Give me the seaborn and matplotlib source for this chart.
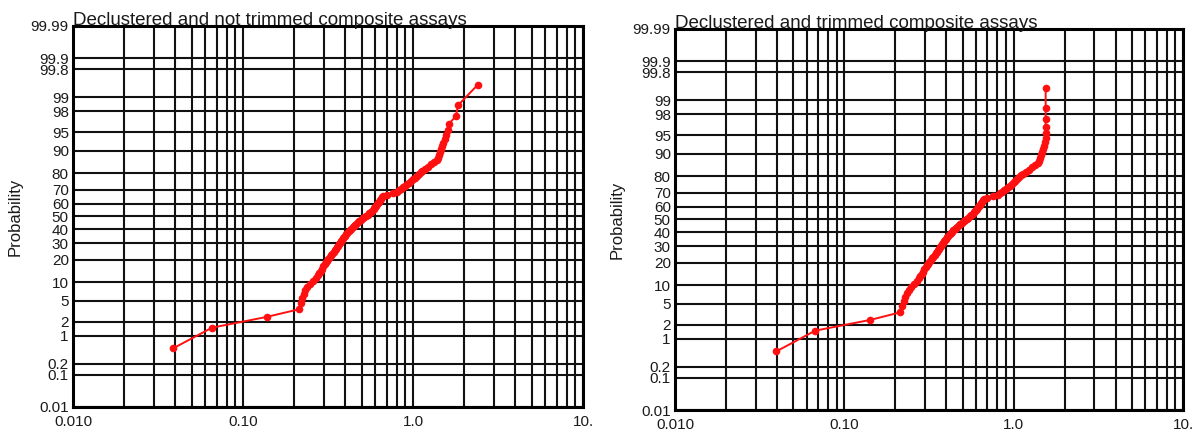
import numpy as np
import matplotlib
matplotlib.use("Agg")
import matplotlib.pyplot as plt
import seaborn as sns
from statistics import NormalDist

# ---------------- data ----------------
prob = [0.5, 1.5, 2.5, 3.5, 4.5, 5.5, 6.5, 7.5, 8.5, 9.5,
        10.5, 11.5, 12.5, 13.5, 14.5, 15.5, 16.5, 17.5, 18.5, 19.5,
        20.5, 21.5, 22.5, 23.5, 24.5, 25.5, 26.5, 27.5, 28.5, 29.5,
        30.5, 31.5, 32.5, 33.5, 34.5, 35.5, 36.5, 37.5, 38.5, 39.5,
        40.5, 41.5, 42.5, 43.5, 44.5, 45.5, 46.5, 47.5, 48.5, 49.5,
        50.5, 51.5, 52.5, 53.5, 54.5, 55.5, 56.5, 57.5, 58.5, 59.5,
        60.5, 61.5, 62.5, 63.5, 64.5, 65.5, 66.5, 67.5, 68.5, 69.5,
        70.5, 71.5, 72.5, 73.5, 74.5, 75.5, 76.5, 77.5, 78.5, 79.5,
        80.5, 81.5, 82.5, 83.5, 84.5, 85.5, 86.5, 87.5, 88.5, 89.5,
        90.5, 91.5, 92.5, 93.5, 94.5, 95.5, 96.5, 97.5, 98.5, 99.5]

grade_not_trimmed = [
    0.0387, 0.0658, 0.138, 0.213, 0.218, 0.223, 0.228, 0.233, 0.239, 0.248,
    0.258, 0.268, 0.275, 0.281, 0.286, 0.291, 0.296, 0.302, 0.307, 0.313,
    0.318, 0.324, 0.330, 0.336, 0.341, 0.346, 0.351, 0.356, 0.361, 0.366,
    0.372, 0.377, 0.382, 0.388, 0.393, 0.398, 0.404, 0.410, 0.418, 0.425,
    0.433, 0.441, 0.449, 0.456, 0.465, 0.474, 0.484, 0.495, 0.506, 0.517,
    0.528, 0.540, 0.551, 0.563, 0.575, 0.586, 0.593, 0.601, 0.608, 0.615,
    0.624, 0.631, 0.638, 0.647, 0.655, 0.664, 0.700, 0.760, 0.807, 0.830,
    0.852, 0.875, 0.898, 0.922, 0.947, 0.972, 0.998, 1.024, 1.050, 1.078,
    1.107, 1.136, 1.178, 1.227, 1.276, 1.330, 1.384, 1.403, 1.422, 1.442,
    1.462, 1.483, 1.503, 1.535, 1.563, 1.596, 1.630, 1.790, 1.840, 2.410]

grade_trimmed = [
    0.0396, 0.0673, 0.1426, 0.214, 0.219, 0.224, 0.229, 0.234, 0.240, 0.249,
    0.258, 0.268, 0.275, 0.281, 0.286, 0.291, 0.296, 0.302, 0.307, 0.313,
    0.318, 0.324, 0.330, 0.336, 0.341, 0.346, 0.351, 0.356, 0.361, 0.366,
    0.372, 0.377, 0.382, 0.388, 0.393, 0.398, 0.404, 0.410, 0.418, 0.425,
    0.433, 0.441, 0.449, 0.456, 0.465, 0.474, 0.484, 0.495, 0.506, 0.517,
    0.528, 0.540, 0.551, 0.563, 0.575, 0.586, 0.593, 0.601, 0.608, 0.615,
    0.624, 0.631, 0.638, 0.647, 0.655, 0.664, 0.700, 0.760, 0.807, 0.830,
    0.852, 0.875, 0.898, 0.922, 0.947, 0.972, 0.998, 1.024, 1.050, 1.078,
    1.107, 1.136, 1.178, 1.227, 1.276, 1.330, 1.384, 1.403, 1.422, 1.442,
    1.462, 1.483, 1.503, 1.535, 1.545, 1.545, 1.545, 1.545, 1.545, 1.545]

titles = ["Declustered and not trimmed composite assays",
          "Declustered and trimmed composite assays"]

prob_ticks = [0.01, 0.1, 0.2, 1, 2, 5, 10, 20, 30, 40, 50, 60, 70, 80,
              90, 95, 98, 99, 99.8, 99.9, 99.99]
prob_tick_labels = ["0.01", "0.1", "0.2", "1", "2", "5", "10", "20", "30",
                    "40", "50", "60", "70", "80", "90", "95", "98", "99",
                    "99.8", "99.9", "99.99"]
x_ticks = [0.01, 0.1, 1.0, 10.0]
x_tick_labels = ["0.010", "0.10", "1.0", "10."]

# ---------------- style ----------------
sns.set_style("white")
plt.rcParams["font.family"] = ["Liberation Sans", "DejaVu Sans"]

_nd = NormalDist()


def _fwd(p):
    p = np.clip(np.asarray(p, dtype=float), 1e-7, 100 - 1e-7)
    return np.vectorize(lambda v: _nd.inv_cdf(v / 100.0), otypes=[float])(p)


def _inv(z):
    z = np.asarray(z, dtype=float)
    return np.vectorize(lambda v: _nd.cdf(v) * 100.0, otypes=[float])(z)


fig = plt.figure(figsize=(12.01, 4.33), dpi=100)
positions = [[73 / 1201, 1 - 407 / 433, 510 / 1201, 381 / 433],
             [675 / 1201, 1 - 410 / 433, 508 / 1201, 381 / 433]]
series = [grade_not_trimmed, grade_trimmed]

minor_x = [m * 10.0 ** e for e in (-2, -1, 0) for m in range(2, 10)]

for pos, grades, title in zip(positions, series, titles):
    ax = fig.add_axes(pos)
    ax.set_xscale("log")
    ax.set_yscale("function", functions=(_fwd, _inv))
    ax.set_xlim(0.01, 10)
    ax.set_ylim(0.01, 99.99)

    ax.set_xticks(x_ticks)
    ax.set_xticklabels(x_tick_labels)
    ax.set_xticks(minor_x, minor=True)
    ax.set_xticklabels([], minor=True)
    ax.set_yticks(prob_ticks)
    ax.set_yticklabels(prob_tick_labels)
    ax.set_yticks([], minor=True)

    ax.grid(True, which="both", color="#111111", linewidth=1.5)
    ax.set_axisbelow(True)
    ax.tick_params(axis="both", which="both", length=0, labelsize=11,
                   colors="#1a1a1a")
    ax.tick_params(axis="x", pad=6)
    ax.tick_params(axis="y", pad=3)
    for s in ax.spines.values():
        s.set_color("black")
        s.set_linewidth(2.2)

    sns.lineplot(x=grades, y=prob, ax=ax, sort=False, estimator=None,
                 color="#ff1010", linewidth=1.4, marker="o", markersize=5.5,
                 markeredgewidth=0, zorder=5)

    ax.set_xlabel("")
    ax.set_ylabel("Probability", fontsize=12, labelpad=6, color="#1a1a1a")
    ax.set_title(title, loc="left", fontsize=13.5, pad=1, color="#1a1a1a")

fig.savefig("out.png", dpi=100)
